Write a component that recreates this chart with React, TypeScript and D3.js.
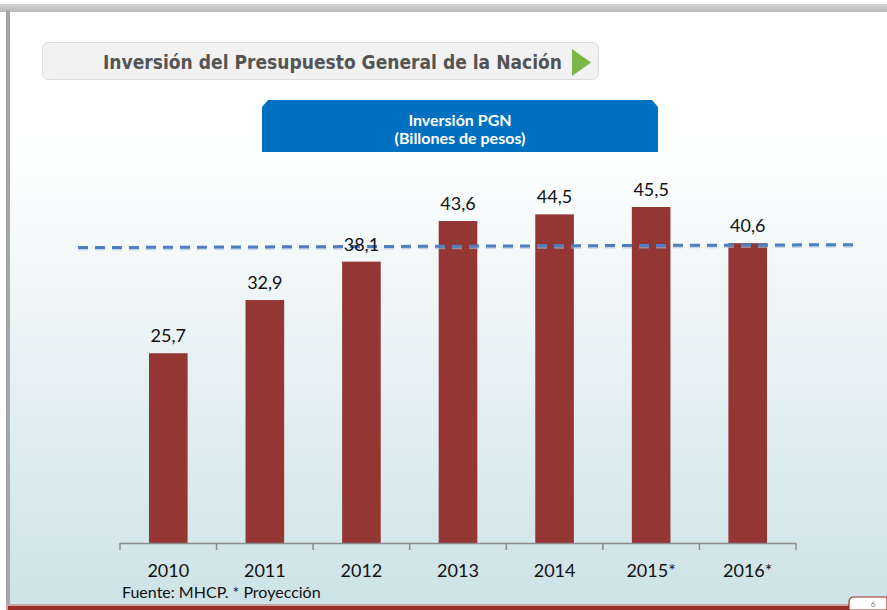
import React from "react";
import * as d3 from "d3";

const categories = ["2010", "2011", "2012", "2013", "2014", "2015*", "2016*"];
const values = [25.7, 32.9, 38.1, 43.6, 44.5, 45.5, 40.6];
const valueLabels = ["25,7", "32,9", "38,1", "43,6", "44,5", "45,5", "40,6"];
const refLine = [40.0, 40.4]; // dashed reference line, start / end value

const W = 887;
const H = 610;
const FONT = "Lato, 'Open Sans', sans-serif";

export default function App() {
  const x = d3.scaleBand<string>().domain(categories).range([120, 796]).paddingInner(0.6).paddingOuter(0.3);
  const xb = d3.scaleBand<string>().domain(categories).range([120, 796]);
  const y = d3.scaleLinear().domain([0, 45.5]).range([543, 207]);
  const refX = d3.scaleLinear().domain([0, 1]).range([78, 855]);
  const tickXs = [...categories.map((c) => xb(c) as number), 796];

  return (
    <div style={{ position: "absolute", left: 0, top: 0 }}>
      <svg width={W} height={H} style={{ display: "block" }}>
        <defs>
          <linearGradient id="bg" x1="0" y1="0" x2="0" y2="1">
            <stop offset="0" stopColor="#ffffff" />
            <stop offset="0.25" stopColor="#fdfefe" />
            <stop offset="1" stopColor="#cde3e7" />
          </linearGradient>
          <linearGradient id="topband" x1="0" y1="0" x2="0" y2="1">
            <stop offset="0" stopColor="#d4d4d4" />
            <stop offset="1" stopColor="#b8b8b8" />
          </linearGradient>
          <filter id="blur" x="-5%" y="-200%" width="110%" height="500%">
            <feGaussianBlur stdDeviation="0.6" />
          </filter>
        </defs>
        <rect x={0} y={0} width={W} height={H} fill="#ffffff" />
        <rect x={10} y={12} width={W - 10} height={596} fill="url(#bg)" />
        <rect x={0} y={4} width={W} height={8} fill="url(#topband)" />
        <rect x={6} y={10} width={4} height={598} fill="#a6a6a6" />
        <rect x={6} y={604} width={W} height={6} fill="#c9a3a0" />
        <rect x={8} y={606} width={W} height={4} fill="#9b2f2a" />

        {/* page number box */}
        <path d="M849,610 L849,602 Q849,597 854,597 L887,597 L887,610 Z" fill="#ffffff" stroke="#9b2f2a" strokeWidth={1.2} />
        <text x={873} y={607} fontSize={8} fill="#7f7f7f" fontFamily={FONT} textAnchor="middle">6</text>

        {/* title box */}
        <rect x={42.5} y={42.5} width={556} height={37} rx={6} fill="#f2f2f2" stroke="#dcdcdc" />
        <text x={103} y={69} fontSize={20} fontWeight={700} fill="#545454" fontFamily="'DejaVu Sans', sans-serif"
          textLength={459} lengthAdjust="spacingAndGlyphs">Inversión del Presupuesto General de la Nación</text>
        <path d="M572,49 L591,62.5 L572,76 Z" fill="#7ab648" />

        {/* blue header */}
        <path d="M268,100 L652,100 L658,107 L658,152 L262,152 L262,107 Z" fill="#0070c0" />
        <text x={460} y={126} fontSize={16} fontWeight={700} fill="#ffffff" fontFamily={FONT} textAnchor="middle">Inversión PGN</text>
        <text x={460} y={144} fontSize={16} fontWeight={700} fill="#ffffff" fontFamily={FONT} textAnchor="middle">(Billones de pesos)</text>

        {/* bars */}
        {categories.map((c, i) => (
          <rect key={c} x={x(c)} y={y(values[i])} width={x.bandwidth()} height={543 - y(values[i])} fill="#943634" />
        ))}

        {/* dashed reference line */}
        <line x1={refX(0)} y1={y(refLine[0]) + 1} x2={refX(1)} y2={y(refLine[1]) + 1}
          stroke="#a9bfd9" strokeWidth={4} strokeDasharray="10 7" filter="url(#blur)" opacity={0.6} />
        <line x1={refX(0)} y1={y(refLine[0])} x2={refX(1)} y2={y(refLine[1])}
          stroke="#4f7fc0" strokeWidth={3} strokeDasharray="10 7" />

        {/* value labels */}
        {categories.map((c, i) => (
          <text key={c} x={(x(c) as number) + x.bandwidth() / 2} y={y(values[i]) - 11} fontSize={18}
            fill="#111111" fontFamily={FONT} textAnchor="middle">{valueLabels[i]}</text>
        ))}

        {/* axis */}
        <line x1={120} y1={543.5} x2={796} y2={543.5} stroke="#8c8c8c" strokeWidth={1.5} />
        {tickXs.map((tx, i) => (
          <line key={i} x1={tx} y1={543} x2={tx} y2={550} stroke="#8c8c8c" strokeWidth={1.5} />
        ))}
        {categories.map((c) => (
          <text key={c} x={(xb(c) as number) + xb.bandwidth() / 2} y={577} fontSize={18}
            fill="#111111" fontFamily={FONT} textAnchor="middle">{c}</text>
        ))}
        <text x={122} y={598} fontSize={16} fill="#111111" fontFamily={FONT}>Fuente: MHCP. * Proyección</text>
      </svg>
    </div>
  );
}
